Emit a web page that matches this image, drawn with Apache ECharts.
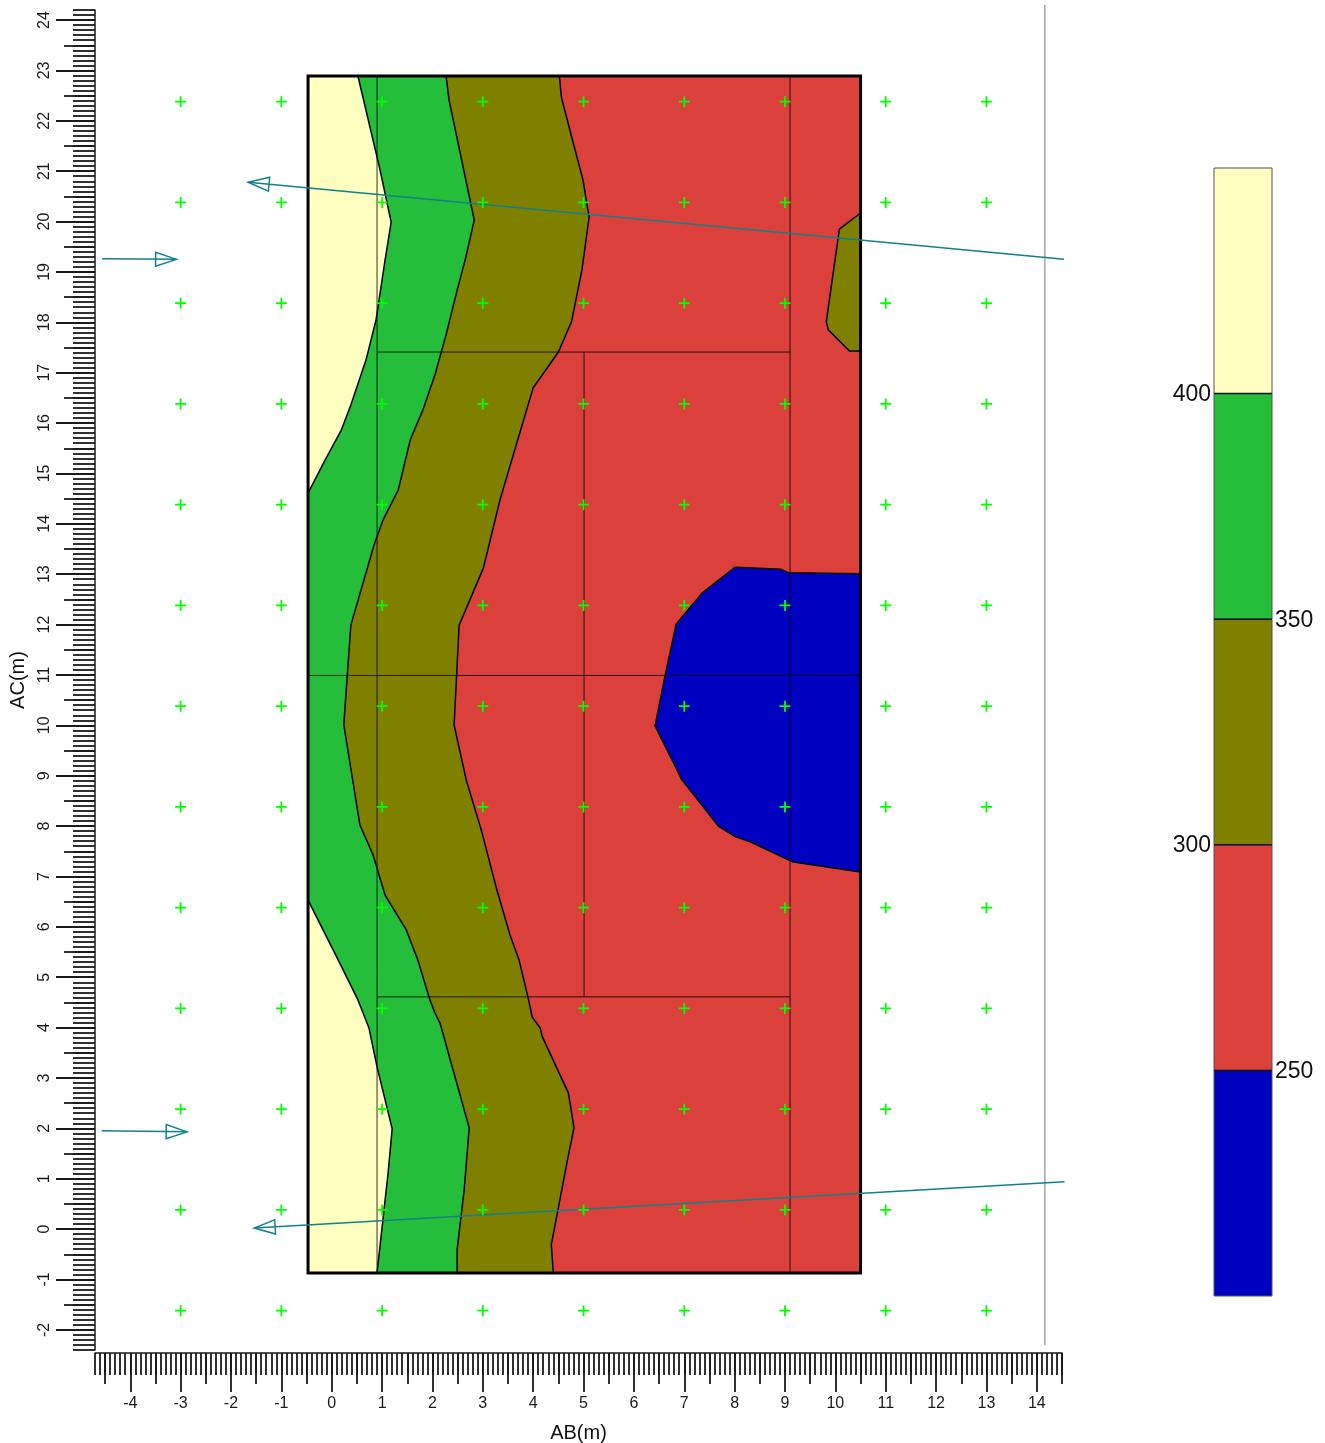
<!DOCTYPE html>
<html><head><meta charset="utf-8">
<script src="https://cdn.jsdelivr.net/npm/echarts@6/dist/echarts.min.js"></script>
<style>html,body{margin:0;padding:0;background:#fff}#c{width:1325px;height:1443px}</style>
</head><body><div id="c"></div>
<script>
// ---------- DATA (data units = metres) ----------
const axisX = [-4.7, 14.5];          // AB(m) range
const axisY = [-2.4, 24.2];          // AC(m) range
const frameX = [-0.47, 10.5];        // survey rectangle
const frameY = [-0.87, 22.89];

// contour polylines, top -> bottom
const contour400Top = [[0.52,22.89],[0.90,21.28],[0.96,21.02],[1.18,19.99],[1.06,19.24],[0.88,18.05],[0.68,17.25],[0.38,16.36],[0.19,15.86],[-0.13,15.27],[-0.47,14.61]];
const contour400Bottom = [[-0.47,6.53],[0.13,5.34],[0.52,4.55],[0.74,3.99],[0.90,3.22],[1.20,1.99],[1.12,1.12],[0.90,-0.87]];
const contour350 = [[2.27,22.89],[2.33,22.41],[2.83,20.03],[2.65,19.24],[2.49,18.64],[2.27,17.75],[2.05,16.96],[1.81,16.26],[1.56,15.67],[1.32,14.67],[1.02,14.08],[0.84,13.58],[0.38,11.99],[0.24,10.01],[0.56,8.02],[0.82,7.43],[1.06,6.63],[1.48,5.94],[1.71,5.34],[1.95,4.55],[2.05,4.29],[2.15,4.09],[2.73,2.01],[2.63,0.78],[2.49,-0.41],[2.49,-0.87]];
const contour300 = [[4.52,22.89],[4.56,22.47],[4.78,21.62],[4.99,20.82],[5.11,20.09],[4.97,19.05],[4.76,18.01],[4.50,17.41],[4.00,16.70],[3.72,15.76],[3.34,14.47],[3.01,13.12],[2.53,11.99],[2.43,10.01],[2.67,8.92],[2.97,7.92],[3.28,6.73],[3.54,5.84],[3.72,5.34],[3.90,4.59],[3.98,4.21],[4.14,3.99],[4.18,3.82],[4.70,2.70],[4.81,2.01],[4.68,1.37],[4.36,-0.31],[4.40,-0.87]];
const blob250 = [[10.5,13.01],[9.07,13.03],[8.91,13.10],[8.01,13.14],[7.36,12.63],[6.84,12.01],[6.62,10.99],[6.42,9.99],[6.86,9.11],[6.94,8.94],[7.68,8.00],[8.01,7.79],[8.31,7.69],[9.15,7.29],[9.27,7.27],[10.5,7.09]];
const blob300 = [[10.5,20.17],[10.08,19.85],[9.82,18.01],[9.86,17.85],[10.28,17.43],[10.5,17.43]];

// internal survey lines: vertical [x, y0, y1], horizontal [y, x0, x1]
const linesV = [[0.90,-0.87,22.89],[9.10,-0.87,22.89],[5.01,4.61,17.41]];
const linesH = [[17.41,0.90,9.10],[4.61,0.90,9.10],[10.99,-0.47,10.5]];

// station grid (+ markers)
const stationX = [-3,-1,1,3,5,7,9,11,13];
const stationY = [-1.62,0.38,2.38,4.38,6.38,8.38,10.38,12.38,14.38,16.38,18.38,20.38,22.38];

// arrows: [start, tip]
const arrows = [
  [[14.54,19.25],[-1.66,20.78]],
  [[-4.56,19.26],[-3.08,19.25]],
  [[-4.57,1.95],[-2.87,1.93]],
  [[14.55,0.94],[-1.54,0.02]]
];
const refLineX = 14.16, refLineY = [-2.30, 24.30];

// colour scale
const legendLevels = [450, 400, 350, 300, 250, 200];
const legendLabels = [400, 350, 300, 250];
const legendColors = ['#FFFFC0', '#24BE3A', '#808000', '#DB403B', '#0000C0'];

// ticks
const majorX = [-4,-3,-2,-1,0,1,2,3,4,5,6,7,8,9,10,11,12,13,14];
const majorY = [-2,-1,0,1,2,3,4,5,6,7,8,9,10,11,12,13,14,15,16,17,18,19,20,21,22,23,24];

// ---------- BUILD ----------
function steps(a, b, step) { const out = []; const n = Math.round((b - a) / step); for (let i = 0; i <= n; i++) out.push(Math.round((a + i * step) * 10) / 10); return out; }
const halfX = steps(-4.5, 14.5, 1), halfY = steps(-1.5, 23.5, 1);
const minorX = steps(axisX[0], axisX[1], 0.1), minorY = steps(axisY[0], axisY[1], 0.1);

const YEL = legendColors[0], GRN = legendColors[1], OLV = legendColors[2], RED = legendColors[3], BLU = legendColors[4];
const L = frameX[0], R = frameX[1], B = frameY[0], T = frameY[1];
const regions = [
  { pts: [[L,B],[L,T],[R,T],[R,B]], color: RED },
  { pts: [[L,B],[L,T]].concat(contour300), color: OLV },
  { pts: [[L,B],[L,T]].concat(contour350), color: GRN },
  { pts: [[L,T]].concat(contour400Top), color: YEL },
  { pts: contour400Bottom.concat([[L,B]]), color: YEL },
  { pts: blob250, color: BLU },
  { pts: blob300, color: OLV }
];
const contourLines = [contour400Top, contour400Bottom, contour350, contour300, blob250, blob300];
const stations = [];
stationY.forEach(y => stationX.forEach(x => stations.push([x, y])));

const FONT = "'Liberation Sans', Arial, sans-serif";
const TICKC = '#1a1a1a';

function xAx(vals, len, withLabel) {
  return {
    type: 'value', gridIndex: 0, min: axisX[0], max: axisX[1], position: 'bottom', offset: 3,
    axisLine: { show: withLabel, onZero: false, lineStyle: { color: TICKC, width: 1.5 } },
    axisTick: { show: true, inside: false, length: len, customValues: vals, lineStyle: { color: TICKC, width: 1.8 } },
    axisLabel: withLabel ? { show: true, customValues: majorX, margin: 43, fontSize: 16, color: TICKC, fontFamily: FONT } : { show: false },
    splitLine: { show: false },
    name: withLabel ? 'AB(m)' : '', nameLocation: 'middle', nameGap: 70,
    nameTextStyle: { fontSize: 20, color: '#111', fontFamily: FONT }
  };
}
function yAx(vals, len, withLabel) {
  return {
    type: 'value', gridIndex: 0, min: axisY[0], max: axisY[1], position: 'left',
    axisLine: { show: withLabel, onZero: false, lineStyle: { color: TICKC, width: 1.5 } },
    axisTick: { show: true, inside: false, length: len, customValues: vals, lineStyle: { color: TICKC, width: 1.8 } },
    axisLabel: withLabel ? { show: true, customValues: majorY, rotate: 90, margin: 42, fontSize: 16, color: TICKC, fontFamily: FONT } : { show: false },
    splitLine: { show: false },
    name: withLabel ? 'AC(m)' : '', nameLocation: 'middle', nameGap: 67,
    nameTextStyle: { fontSize: 20, color: '#111', fontFamily: FONT }
  };
}

const option = {
  animation: false,
  backgroundColor: '#fff',
  grid: [
    { left: 95, top: 10, width: 967, height: 1340, containLabel: false, outerBoundsMode: 'none' },
    { left: 1214, top: 168, width: 58, height: 1128, containLabel: false, outerBoundsMode: 'none' }
  ],
  xAxis: [xAx(majorX, 39, true), xAx(halfX, 31, false), xAx(minorX, 22, false),
    { type: 'value', gridIndex: 1, min: 0, max: 1, show: false }],
  yAxis: [yAx(majorY, 39, true), yAx(halfY, 31, false), yAx(minorY, 22, false),
    { type: 'value', gridIndex: 1, min: legendLevels[legendLevels.length - 1], max: legendLevels[0], show: false }],
  series: [
    { // filled regions
      type: 'custom', z: 1, silent: true, data: regions.map((r, i) => [i]),
      renderItem: (p, api) => ({ type: 'polygon', shape: { points: regions[p.dataIndex].pts.map(q => api.coord(q)) }, style: { fill: regions[p.dataIndex].color, stroke: null } })
    },
    { // contour lines
      type: 'custom', z: 2, silent: true, data: contourLines.map((r, i) => [i]),
      renderItem: (p, api) => ({ type: 'polyline', shape: { points: contourLines[p.dataIndex].map(q => api.coord(q)) }, style: { fill: null, stroke: '#000', lineWidth: 1.5 } })
    },
    { // survey lines
      type: 'custom', z: 3, silent: true, data: [[0]],
      renderItem: (p, api) => {
        const ch = [];
        linesV.forEach(l => { const a = api.coord([l[0], l[1]]), b = api.coord([l[0], l[2]]); ch.push({ type: 'line', shape: { x1: a[0], y1: a[1], x2: b[0], y2: b[1] }, style: { stroke: 'rgba(0,0,0,0.8)', lineWidth: 1 } }); });
        linesH.forEach(l => { const a = api.coord([l[1], l[0]]), b = api.coord([l[2], l[0]]); ch.push({ type: 'line', shape: { x1: a[0], y1: a[1], x2: b[0], y2: b[1] }, style: { stroke: 'rgba(0,0,0,0.8)', lineWidth: 1 } }); });
        return { type: 'group', children: ch };
      }
    },
    { // frame + reference line
      type: 'custom', z: 4, silent: true, data: [[0]],
      renderItem: (p, api) => {
        const pts = [[L,B],[L,T],[R,T],[R,B]].map(q => api.coord(q));
        const a = api.coord([refLineX, refLineY[0]]), b = api.coord([refLineX, refLineY[1]]);
        return { type: 'group', children: [
          { type: 'polygon', shape: { points: pts }, style: { fill: null, stroke: '#000', lineWidth: 3 } },
          { type: 'line', shape: { x1: a[0], y1: a[1], x2: b[0], y2: b[1] }, style: { stroke: '#777', lineWidth: 1 } }
        ] };
      }
    },
    { // arrows
      type: 'custom', z: 5, silent: true, data: arrows.map((a, i) => [i]),
      renderItem: (p, api) => {
        const ar = arrows[p.dataIndex];
        const s = api.coord(ar[0]), t = api.coord(ar[1]);
        const dx = t[0] - s[0], dy = t[1] - s[1], len = Math.hypot(dx, dy);
        const ux = dx / len, uy = dy / len, nx = -uy, ny = ux;
        const bx = t[0] - ux * 21, by = t[1] - uy * 21;
        return { type: 'group', children: [
          { type: 'line', shape: { x1: s[0], y1: s[1], x2: t[0], y2: t[1] }, style: { stroke: '#138088', lineWidth: 1.5 } },
          { type: 'polygon', shape: { points: [t, [bx + nx * 7, by + ny * 7], [bx - nx * 7, by - ny * 7]] }, style: { fill: null, stroke: '#138088', lineWidth: 1.5 } }
        ] };
      }
    },
    { // station markers
      type: 'scatter', z: 6, silent: true, data: stations,
      symbol: 'path://M0,4.6H11V6.4H0Z M4.6,0H6.4V11H4.6Z', symbolSize: 11,
      itemStyle: { color: '#00FF00', opacity: 1 }
    },
    { // colour bar
      type: 'custom', z: 2, silent: true, xAxisIndex: 3, yAxisIndex: 3, data: legendColors.map((c, i) => [i]),
      renderItem: (p, api) => {
        const i = p.dataIndex;
        const a = api.coord([0, legendLevels[i]]), b = api.coord([1, legendLevels[i + 1]]);
        return { type: 'rect', shape: { x: a[0], y: a[1], width: b[0] - a[0], height: b[1] - a[1] }, style: { fill: legendColors[i], stroke: '#555', lineWidth: 1 } };
      }
    },
    { // colour bar boundaries + labels
      type: 'custom', z: 3, silent: true, xAxisIndex: 3, yAxisIndex: 3, data: legendLabels.map((v, i) => [i]),
      renderItem: (p, api) => {
        const i = p.dataIndex, v = legendLabels[i];
        const a = api.coord([0, v]), b = api.coord([1, v]);
        const left = i % 2 === 0;
        return { type: 'group', children: [
          { type: 'line', shape: { x1: a[0], y1: a[1], x2: b[0], y2: b[1] }, style: { stroke: '#111', lineWidth: 1.5 } },
          { type: 'text', x: left ? a[0] - 3 : b[0] + 3, y: a[1] + 1, style: { text: String(v), fill: '#111', font: '23px ' + FONT, align: left ? 'right' : 'left', verticalAlign: 'middle' } }
        ] };
      }
    }
  ]
};
const chart = echarts.init(document.getElementById('c'));
chart.setOption(option);
</script></body></html>
